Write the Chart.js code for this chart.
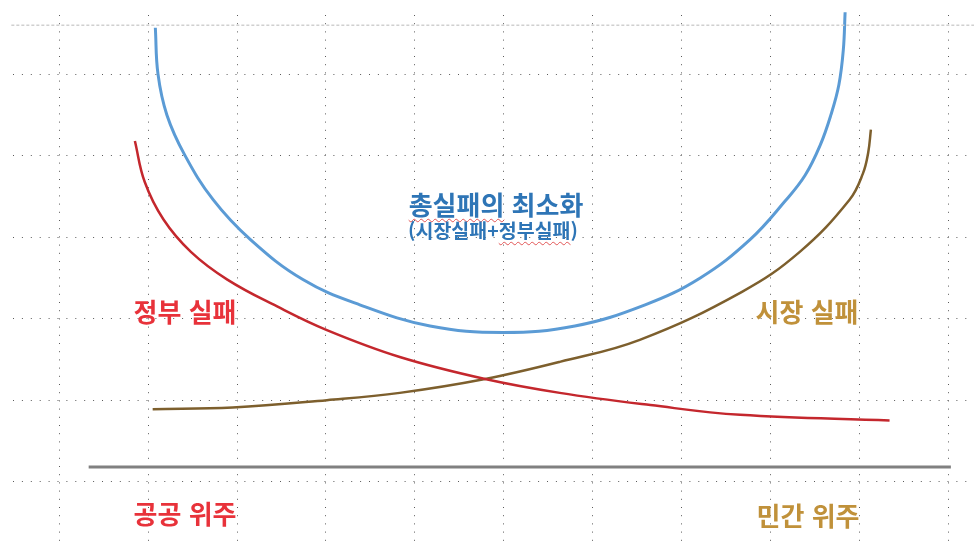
<!DOCTYPE html>
<html lang="ko">
<head>
<meta charset="utf-8">
<title>총실패의 최소화</title>
<script src="https://cdn.jsdelivr.net/npm/chart.js@4.4.1/dist/chart.umd.min.js"></script>
<style>
  html, body { margin: 0; padding: 0; background: #fff; }
  #wrap { position: relative; width: 974px; height: 543px; overflow: hidden; }
  .lbl {
    position: absolute;
    transform: translate(-50%, -50%);
    font-family: "Noto Sans CJK KR", "Noto Sans", sans-serif;
    font-weight: bold;
    white-space: nowrap;
    line-height: 1;
  }
  .squiggle {
    text-decoration: underline wavy #e25555 1px;
    text-underline-offset: 3px;
  }
  .red { color: #e8323a; }
  .gold { color: #c0913a; }
  .blue { color: #2e75b6; }
</style>
</head>
<body>
<div id="wrap">
  <canvas id="chart"></canvas>
  <div class="lbl blue" style="left:496px; top:204px; font-size:26px;"><span class="squiggle">총실패의</span> 최소화</div>
  <div class="lbl blue" style="left:493px; top:230px; font-size:19.5px;">(시장실패+<span class="squiggle">정부실패</span>)</div>
  <div class="lbl red" style="left:185px; top:311px; font-size:26px;">정부 실패</div>
  <div class="lbl gold" style="left:807px; top:311px; font-size:26px;">시장 실패</div>
  <div class="lbl red" style="left:185px; top:513px; font-size:26px;">공공 위주</div>
  <div class="lbl gold" style="left:808px; top:515px; font-size:26px;">민간 위주</div>
</div>
<script>
// 총실패 (시장실패 + 정부실패) U자 곡선
const totalX = [10.8, 11.1, 12.1, 14.1, 17.3, 21.5, 27.4, 33.8, 41.7, 49.9, 58.0, 65.9, 72.1, 77.7, 81.7, 83.9, 85.6, 86.8, 87.7, 88.2, 88.4];
const totalY = [55.7, 50.0, 45.0, 40.1, 34.6, 29.7, 24.8, 21.7, 19.1, 18.3, 19.1, 21.7, 25.0, 29.7, 34.5, 37.6, 41.3, 45.0, 48.7, 53.0, 57.6];

// 정부 실패: 공공 위주일수록 커짐
const govX = [8.5, 9.6, 11.7, 14.8, 18.9, 24.5, 30.1, 38.3, 47.9, 56.3, 66.5, 76.6, 93.4];
const govY = [41.8, 36.8, 32.2, 28.2, 24.8, 21.5, 18.6, 15.3, 12.6, 10.9, 9.4, 8.2, 7.5];

// 시장 실패: 민간 위주일수록 커짐
const marketX = [10.5, 19.5, 30.1, 38.3, 47.9, 56.3, 65.3, 76.8, 83.3, 88.9, 90.4, 91.0, 91.3];
const marketY = [8.9, 9.1, 10.0, 10.9, 12.6, 14.7, 17.4, 23.3, 28.2, 34.6, 37.8, 40.4, 43.2];

// 가로 기준선 (아래 회색 축, 위 옅은 점선)
const axisX = [3.3, 100.3];
const axisY = [1.8, 1.8];
const topX = [-5.4, 103];
const topY = [56.0, 56.0];

const toPoints = (xs, ys) => xs.map((x, i) => ({ x, y: ys[i] }));

function curve(xs, ys, color, width) {
  return {
    data: toPoints(xs, ys),
    borderColor: color,
    borderWidth: width,
    pointRadius: 0,
    tension: 0.4,
    clip: false,
  };
}

function straight(xs, ys, color, width, dash) {
  return {
    data: toPoints(xs, ys),
    borderColor: color,
    borderWidth: width,
    borderDash: dash || [],
    pointRadius: 0,
    tension: 0,
    clip: false,
  };
}

new Chart(document.getElementById("chart"), {
  type: "line",
  data: {
    datasets: [
      straight(topX, topY, "#d0d0d0", 1.5, [3, 2]),
      straight(axisX, axisY, "#808080", 3),
      curve(govX, govY, "#c4272d", 2.5),
      curve(marketX, marketY, "#7d5f2d", 2.5),
      curve(totalX, totalY, "#5b9bd5", 3),
    ],
  },
  options: {
    responsive: true,
    maintainAspectRatio: false,
    animation: false,
    events: [],
    layout: { padding: { left: 10, top: 15 }, autoPadding: false },
    plugins: {
      legend: { display: false },
      tooltip: { enabled: false },
    },
    scales: {
      x: {
        type: "linear",
        min: -5.55,
        max: 102.9,
        ticks: { display: false, stepSize: 10, includeBounds: false },
        grid: { color: "#5a5a5a", lineWidth: 1, drawTicks: false },
        border: { display: false, dash: [1, 7.2] },
      },
      y: {
        type: "linear",
        min: -7.52,
        max: 57.26,
        ticks: { display: false, stepSize: 10, includeBounds: false },
        grid: { color: "#5a5a5a", lineWidth: 1, drawTicks: false },
        border: { display: false, dash: [1, 7.9], dashOffset: -3 },
      },
    },
  },
});
</script>
</body>
</html>
